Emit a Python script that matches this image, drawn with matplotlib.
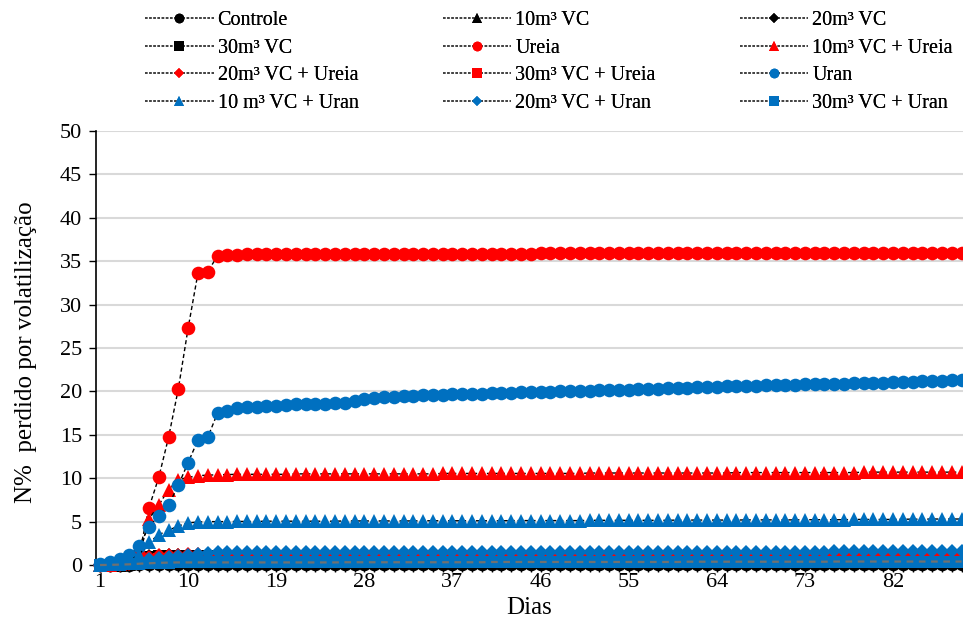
import matplotlib
matplotlib.use("Agg")
import matplotlib.pyplot as plt
from matplotlib.lines import Line2D
from matplotlib.ticker import FixedLocator, MultipleLocator

plt.rcParams['font.family'] = ['Liberation Serif', 'DejaVu Serif']

days = list(range(1, 90))
x_tick_labels = [1, 10, 19, 28, 37, 46, 55, 64, 73, 82]

controle = [0.0, 0.0, 0.02, 0.05, 0.1, 0.12, 0.13, 0.14, 0.15, 0.15,
            0.15, 0.15, 0.15, 0.15, 0.15, 0.15, 0.15, 0.15, 0.15, 0.15,
            0.15, 0.15, 0.15, 0.15, 0.15, 0.15, 0.15, 0.15, 0.15, 0.15,
            0.15, 0.15, 0.15, 0.15, 0.15, 0.15, 0.15, 0.15, 0.15, 0.15,
            0.15, 0.15, 0.15, 0.15, 0.15, 0.15, 0.15, 0.15, 0.15, 0.15,
            0.15, 0.15, 0.15, 0.15, 0.15, 0.15, 0.15, 0.15, 0.15, 0.15,
            0.15, 0.15, 0.15, 0.15, 0.15, 0.15, 0.15, 0.15, 0.15, 0.15,
            0.15, 0.15, 0.15, 0.15, 0.15, 0.15, 0.15, 0.15, 0.15, 0.15,
            0.15, 0.15, 0.15, 0.15, 0.15, 0.15, 0.15, 0.15, 0.15]
vc10 = [0.0, 0.0, 0.03, 0.08, 0.3, 0.6, 0.7, 0.75, 0.8, 0.8,
        0.8, 0.8, 0.8, 0.8, 0.8, 0.8, 0.8, 0.8, 0.8, 0.8,
        0.8, 0.8, 0.8, 0.8, 0.8, 0.8, 0.8, 0.8, 0.8, 0.8,
        0.8, 0.8, 0.8, 0.8, 0.8, 0.8, 0.8, 0.8, 0.8, 0.8,
        0.8, 0.8, 0.8, 0.8, 0.8, 0.8, 0.8, 0.8, 0.8, 0.8,
        0.8, 0.8, 0.8, 0.8, 0.8, 0.8, 0.8, 0.8, 0.8, 0.8,
        0.8, 0.8, 0.8, 0.8, 0.8, 0.8, 0.8, 0.8, 0.8, 0.8,
        0.8, 0.8, 0.8, 0.8, 0.8, 0.8, 0.8, 0.8, 0.8, 0.8,
        0.8, 0.8, 0.8, 0.8, 0.8, 0.8, 0.8, 0.8, 0.8]
vc20 = [0.0, 0.0, 0.03, 0.1, 0.5, 1.0, 1.05, 1.1, 1.1, 1.1,
        1.1, 1.1, 1.1, 1.1, 1.1, 1.1, 1.1, 1.1, 1.1, 1.1,
        1.1, 1.1, 1.1, 1.1, 1.1, 1.1, 1.1, 1.1, 1.1, 1.1,
        1.1, 1.1, 1.1, 1.1, 1.1, 1.1, 1.1, 1.1, 1.1, 1.1,
        1.1, 1.1, 1.1, 1.1, 1.1, 1.1, 1.1, 1.1, 1.1, 1.1,
        1.1, 1.1, 1.1, 1.1, 1.1, 1.1, 1.1, 1.1, 1.1, 1.1,
        1.1, 1.1, 1.1, 1.1, 1.1, 1.1, 1.1, 1.1, 1.1, 1.1,
        1.1, 1.1, 1.1, 1.1, 1.1, 1.1, 1.1, 1.1, 1.1, 1.1,
        1.1, 1.1, 1.1, 1.1, 1.1, 1.1, 1.1, 1.1, 1.1]
vc30 = [0.0, 0.0, 0.03, 0.1, 0.4, 0.9, 1.0, 1.0, 1.0, 1.0,
        1.0, 1.0, 1.0, 1.0, 1.0, 1.0, 1.0, 1.0, 1.0, 1.0,
        1.0, 1.0, 1.0, 1.0, 1.0, 1.0, 1.0, 1.0, 1.0, 1.0,
        1.0, 1.0, 1.0, 1.0, 1.0, 1.0, 1.0, 1.0, 1.0, 1.0,
        1.0, 1.0, 1.0, 1.0, 1.0, 1.0, 1.0, 1.0, 1.0, 1.0,
        1.0, 1.0, 1.0, 1.0, 1.0, 1.0, 1.0, 1.0, 1.0, 1.0,
        1.0, 1.0, 1.0, 1.0, 1.0, 1.0, 1.0, 1.0, 1.0, 1.0,
        1.0, 1.0, 1.0, 1.0, 1.0, 1.0, 1.0, 1.0, 1.0, 1.0,
        1.0, 1.0, 1.0, 1.0, 1.0, 1.0, 1.0, 1.0, 1.0]
ureia = [0.0, 0.05, 0.2, 0.5, 1.2, 6.6, 10.1, 14.7, 20.3, 27.3,
         33.6, 33.8, 35.6, 35.7, 35.75, 35.8, 35.8, 35.8, 35.8, 35.8,
         35.8, 35.8, 35.8, 35.8, 35.8, 35.85, 35.85, 35.85, 35.85, 35.85,
         35.85, 35.85, 35.85, 35.85, 35.85, 35.85, 35.85, 35.85, 35.85, 35.85,
         35.85, 35.85, 35.85, 35.85, 35.85, 35.9, 35.9, 35.9, 35.9, 35.9,
         35.9, 35.9, 35.9, 35.9, 35.9, 35.9, 35.9, 35.9, 35.9, 35.9,
         35.9, 35.9, 35.9, 35.9, 35.9, 35.9, 35.9, 35.9, 35.9, 35.9,
         36.0, 36.0, 36.0, 36.0, 36.0, 36.0, 36.0, 36.0, 36.0, 36.0,
         36.0, 36.0, 36.0, 36.0, 36.0, 36.0, 36.0, 36.0, 36.0]
vc10_ureia = [0.0, 0.05, 0.15, 0.4, 1.0, 5.3, 6.9, 8.7, 9.8, 10.1,
              10.3, 10.35, 10.4, 10.42, 10.45, 10.45, 10.45, 10.45, 10.45, 10.45,
              10.5, 10.5, 10.5, 10.5, 10.5, 10.5, 10.5, 10.5, 10.5, 10.5,
              10.5, 10.5, 10.5, 10.5, 10.5, 10.55, 10.55, 10.55, 10.55, 10.55,
              10.55, 10.55, 10.55, 10.55, 10.55, 10.55, 10.55, 10.55, 10.55, 10.55,
              10.6, 10.6, 10.6, 10.6, 10.6, 10.6, 10.6, 10.6, 10.6, 10.6,
              10.6, 10.6, 10.6, 10.6, 10.6, 10.65, 10.65, 10.65, 10.65, 10.65,
              10.65, 10.65, 10.65, 10.65, 10.65, 10.65, 10.65, 10.65, 10.7, 10.7,
              10.7, 10.7, 10.7, 10.7, 10.7, 10.7, 10.7, 10.7, 10.7]
vc20_ureia = [0.0, 0.02, 0.05, 0.1, 0.3, 0.9, 1.1, 1.15, 1.2, 1.25,
              1.3, 1.3, 1.3, 1.3, 1.3, 1.3, 1.3, 1.3, 1.3, 1.3,
              1.3, 1.3, 1.3, 1.3, 1.3, 1.3, 1.3, 1.3, 1.3, 1.3,
              1.3, 1.3, 1.3, 1.3, 1.3, 1.3, 1.3, 1.3, 1.3, 1.3,
              1.3, 1.3, 1.3, 1.3, 1.3, 1.3, 1.3, 1.3, 1.3, 1.3,
              1.3, 1.3, 1.3, 1.3, 1.3, 1.3, 1.3, 1.3, 1.3, 1.3,
              1.3, 1.3, 1.3, 1.3, 1.3, 1.3, 1.3, 1.3, 1.3, 1.3,
              1.3, 1.3, 1.3, 1.3, 1.3, 1.3, 1.3, 1.3, 1.3, 1.3,
              1.3, 1.3, 1.3, 1.3, 1.3, 1.3, 1.3, 1.3, 1.3]
vc30_ureia = [0.0, 0.02, 0.05, 0.1, 0.3, 0.6, 0.65, 0.7, 0.7, 0.7,
              0.7, 0.7, 0.7, 0.7, 0.7, 0.7, 0.7, 0.7, 0.7, 0.7,
              0.7, 0.7, 0.7, 0.7, 0.7, 0.7, 0.7, 0.7, 0.7, 0.7,
              0.7, 0.7, 0.7, 0.7, 0.7, 0.7, 0.7, 0.7, 0.7, 0.7,
              0.7, 0.7, 0.7, 0.7, 0.7, 0.7, 0.7, 0.7, 0.7, 0.7,
              0.7, 0.7, 0.7, 0.7, 0.7, 0.7, 0.7, 0.7, 0.7, 0.7,
              0.7, 0.7, 0.7, 0.7, 0.7, 0.7, 0.7, 0.7, 0.7, 0.7,
              0.7, 0.7, 0.7, 0.7, 0.7, 0.7, 0.7, 0.7, 0.7, 0.7,
              0.7, 0.7, 0.7, 0.7, 0.7, 0.7, 0.7, 0.7, 0.7]
uran = [0.1, 0.4, 0.7, 1.1, 2.2, 4.4, 5.7, 6.9, 9.2, 11.8,
        14.4, 14.7, 17.5, 17.8, 18.1, 18.2, 18.25, 18.3, 18.35, 18.4,
        18.5, 18.55, 18.6, 18.6, 18.65, 18.7, 18.9, 19.1, 19.25, 19.35,
        19.4, 19.45, 19.5, 19.55, 19.6, 19.62, 19.65, 19.7, 19.72, 19.75,
        19.78, 19.8, 19.85, 19.88, 19.9, 19.95, 19.98, 20.0, 20.05, 20.08,
        20.1, 20.12, 20.15, 20.2, 20.22, 20.25, 20.3, 20.32, 20.35, 20.4,
        20.45, 20.48, 20.5, 20.55, 20.58, 20.6, 20.62, 20.65, 20.7, 20.72,
        20.75, 20.78, 20.8, 20.82, 20.85, 20.88, 20.9, 20.92, 20.95, 20.98,
        21.0, 21.05, 21.08, 21.1, 21.15, 21.18, 21.22, 21.26, 21.3]
vc10_uran = [0.0, 0.1, 0.2, 0.5, 1.2, 2.6, 3.5, 4.0, 4.5, 4.85,
             4.95, 5.0, 5.0, 5.0, 5.02, 5.02, 5.02, 5.05, 5.05, 5.05,
             5.05, 5.05, 5.05, 5.05, 5.05, 5.08, 5.08, 5.08, 5.08, 5.08,
             5.08, 5.08, 5.08, 5.1, 5.1, 5.1, 5.1, 5.1, 5.1, 5.1,
             5.1, 5.1, 5.12, 5.12, 5.12, 5.12, 5.12, 5.12, 5.12, 5.12,
             5.15, 5.15, 5.15, 5.15, 5.15, 5.15, 5.15, 5.15, 5.15, 5.18,
             5.18, 5.18, 5.18, 5.18, 5.18, 5.18, 5.2, 5.2, 5.2, 5.2,
             5.2, 5.2, 5.22, 5.22, 5.22, 5.22, 5.22, 5.25, 5.25, 5.25,
             5.25, 5.25, 5.28, 5.28, 5.28, 5.3, 5.3, 5.3, 5.3]
vc20_uran = [0.05, 0.1, 0.15, 0.2, 0.4, 0.7, 0.85, 0.95, 1.05, 1.15,
             1.3, 1.4, 1.45, 1.5, 1.5, 1.5, 1.5, 1.5, 1.5, 1.5,
             1.5, 1.5, 1.5, 1.5, 1.5, 1.5, 1.5, 1.5, 1.5, 1.5,
             1.5, 1.5, 1.5, 1.5, 1.5, 1.5, 1.5, 1.5, 1.5, 1.5,
             1.5, 1.5, 1.5, 1.5, 1.5, 1.5, 1.5, 1.5, 1.5, 1.5,
             1.55, 1.55, 1.55, 1.55, 1.55, 1.55, 1.55, 1.55, 1.55, 1.55,
             1.55, 1.55, 1.55, 1.55, 1.55, 1.55, 1.55, 1.55, 1.55, 1.55,
             1.55, 1.55, 1.55, 1.55, 1.55, 1.6, 1.6, 1.6, 1.6, 1.6,
             1.6, 1.6, 1.6, 1.6, 1.6, 1.6, 1.6, 1.6, 1.6]
vc30_uran = [0.0, 0.02, 0.05, 0.08, 0.15, 0.2, 0.25, 0.28, 0.3, 0.3,
             0.3, 0.3, 0.3, 0.3, 0.3, 0.3, 0.3, 0.3, 0.3, 0.3,
             0.3, 0.3, 0.3, 0.3, 0.3, 0.32, 0.32, 0.32, 0.32, 0.32,
             0.32, 0.32, 0.32, 0.32, 0.32, 0.32, 0.32, 0.32, 0.32, 0.32,
             0.35, 0.35, 0.35, 0.35, 0.35, 0.35, 0.35, 0.35, 0.35, 0.35,
             0.35, 0.35, 0.35, 0.35, 0.35, 0.35, 0.35, 0.35, 0.35, 0.35,
             0.38, 0.38, 0.38, 0.38, 0.38, 0.38, 0.38, 0.38, 0.38, 0.38,
             0.38, 0.38, 0.38, 0.38, 0.38, 0.4, 0.4, 0.4, 0.4, 0.4,
             0.4, 0.4, 0.4, 0.4, 0.4, 0.4, 0.4, 0.4, 0.4]

series_labels = ["Controle", "10m³ VC", "20m³ VC",
                 "30m³ VC", "Ureia", "10m³ VC + Ureia",
                 "20m³ VC + Ureia", "30m³ VC + Ureia", "Uran",
                 "10 m³ VC + Uran", "20m³ VC + Uran", "30m³ VC + Uran"]
series_values = [controle, vc10, vc20, vc30, ureia, vc10_ureia,
                 vc20_ureia, vc30_ureia, uran, vc10_uran, vc20_uran, vc30_uran]

BLACK = "#000000"
RED = "#FF0000"
BLUE = "#0070C0"
colors = [BLACK] * 4 + [RED] * 4 + [BLUE] * 4
markers = ["o", "^", "D", "s"] * 3
msizes = {"o": 9.8, "^": 9.8, "D": 7.2, "s": 8.2}
leg_msizes = {"o": 7.0, "^": 7.0, "D": 5.0, "s": 7.0}
line_colors = [BLACK] * 6 + ["#8B1A1A", BLACK] + [BLACK] * 3 + ["#707070"]

fig = plt.figure(figsize=(9.63, 6.22), dpi=100)
ax = fig.add_axes([0.0997, 0.0916, 0.9003, 0.6978])

for i, (lab, vals) in enumerate(zip(series_labels, series_values)):
    z = 3 + i
    ax.plot(days, vals, linestyle=(0, (3, 2)), color=line_colors[i], lw=1.0,
            zorder=z, clip_on=False)
    ax.plot(days, vals, linestyle="none", marker=markers[i],
            markersize=msizes[markers[i]], color=colors[i],
            markeredgewidth=0, zorder=z + 0.1, clip_on=False)
# dashed line of last series drawn over its markers
ax.plot(days, vc30_uran, linestyle=(0, (3, 2.5)), color="#707070", lw=1.6, zorder=20,
        clip_on=False)

ax.set_xlim(0.59, 89.15)
ax.set_ylim(0, 50)
ax.yaxis.set_major_locator(MultipleLocator(5))
ax.xaxis.set_major_locator(FixedLocator(x_tick_labels))
ax.xaxis.set_minor_locator(FixedLocator(days))
ax.set_xticklabels([str(v) for v in x_tick_labels])
ax.grid(axis="y", color="#d9d9d9", lw=1.5, zorder=0)
ax.set_axisbelow(True)
for s in ["top", "right"]:
    ax.spines[s].set_visible(False)
for s in ["left", "bottom"]:
    ax.spines[s].set_linewidth(1.2)
    ax.spines[s].set_zorder(2)
ax.tick_params(axis="y", which="major", direction="out", length=5, width=1,
               labelsize=16, pad=5)
ax.tick_params(axis="x", which="major", direction="out", length=5, width=1,
               labelsize=16, pad=1)
ax.tick_params(axis="x", which="minor", direction="out", length=5, width=1)

ax.set_xlabel("Dias", fontsize=18)
ax.xaxis.set_label_coords(0.5, -0.074)
ax.set_ylabel("N%  perdido por volatilização", fontsize=18)
ax.yaxis.set_label_coords(-0.068, 0.49)

# legend: three columns, row-wise reading order
col_x = [0.1506, 0.4600, 0.7684]
for c in range(3):
    handles = []
    labels = []
    for r in range(4):
        k = r * 3 + c
        handles.append(Line2D([], [], color="#404040", lw=1.2,
                              linestyle=(0, (1.5, 1.0)),
                              marker=markers[k], markersize=leg_msizes[markers[k]],
                              markerfacecolor=colors[k], markeredgecolor=colors[k],
                              markeredgewidth=0))
        labels.append(series_labels[k])
    leg = fig.legend(handles, labels, loc="upper left",
                     bbox_to_anchor=(col_x[c], 0.982), frameon=False,
                     fontsize=14.5, handlelength=3.4, handletextpad=0.2,
                     labelspacing=0.42, borderpad=0, borderaxespad=0)
    fig.add_artist(leg)

fig.savefig("out.png", dpi=100)
